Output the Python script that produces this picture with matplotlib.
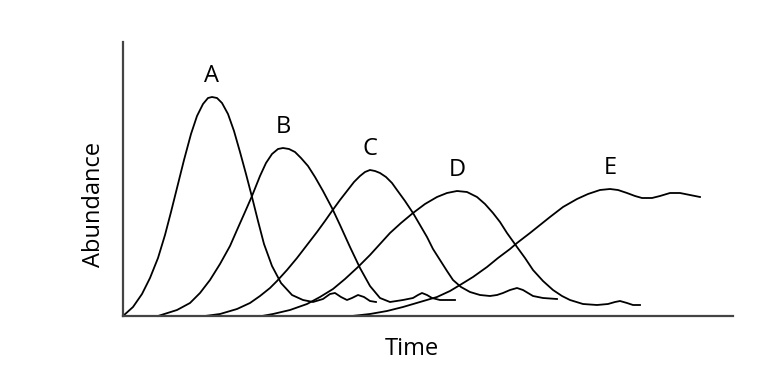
import matplotlib.pyplot as plt

plt.rcParams['font.family'] = ['Open Sans', 'DejaVu Sans']

# species abundance over time
species = ['A', 'B', 'C', 'D', 'E']

a_time = [0, 10, 19, 27, 35, 42, 48, 54, 61, 68, 74, 80, 85, 89, 94, 99, 105, 111,
          117, 123, 129, 135, 141, 149, 158, 169, 180, 190, 200, 207, 212, 218, 224,
          229, 235, 241, 247, 253]
a_abund = [0, 9, 22, 38, 58, 81, 104, 128, 156, 182, 200, 212, 218, 219, 218, 213, 202,
           185, 164, 142, 119, 95, 72, 50, 33, 21, 16, 14, 17, 22, 23, 19, 16, 18, 21,
           19, 15, 14]

b_time = [35, 54, 67, 77, 87, 97, 107, 114, 122, 129, 137, 143, 149, 155, 160, 166, 172,
          178, 185, 192, 200, 209, 217, 227, 237, 247, 257, 267, 280, 290, 295, 299, 304,
          309, 317, 332]
b_abund = [0, 6, 13, 23, 36, 52, 70, 86, 104, 120, 140, 153, 162, 167, 168, 167, 164,
           158, 150, 139, 125, 108, 91, 69, 48, 30, 18, 14, 16, 18, 21, 23, 21, 18, 16, 16]

c_time = [82, 97, 114, 127, 137, 147, 154, 164, 174, 184, 194, 202, 209, 217, 224, 231,
          237, 242, 247, 252, 257, 263, 269, 274, 282, 290, 297, 304, 310, 317, 324, 330,
          338, 347, 357, 367, 374, 380, 387, 394, 400, 405, 410, 420, 434]
c_abund = [0, 2, 7, 13, 20, 28, 35, 46, 58, 71, 84, 95, 105, 116, 125, 134, 140, 144,
           146, 145, 143, 139, 133, 126, 115, 103, 91, 79, 67, 56, 45, 36, 29, 24, 21, 20,
           21, 23, 26, 28, 26, 23, 20, 18, 17]

d_time = [139, 150, 167, 184, 197, 210, 222, 235, 247, 257, 267, 278, 290, 302, 314, 324,
          334, 344, 354, 362, 370, 377, 384, 394, 402, 410, 420, 430, 439, 447, 460, 474,
          485, 492, 497, 504, 510, 517]
d_abund = [0, 2, 6, 12, 19, 27, 37, 49, 61, 72, 83, 93, 103, 112, 119, 123, 125, 124,
           119, 112, 103, 94, 83, 69, 58, 46, 35, 26, 20, 16, 12, 11, 12, 14, 15, 13, 11, 11]

e_time = [229, 247, 264, 280, 297, 314, 327, 337, 350, 364, 375, 387, 394, 407, 417, 427,
          440, 454, 465, 477, 487, 495, 504, 512, 519, 529, 537, 547, 557, 567, 577]
e_abund = [0, 2, 5, 9, 14, 19, 25, 31, 39, 49, 58, 67, 73, 83, 91, 99, 109, 117, 122,
           126, 127, 126, 123, 120, 118, 118, 120, 123, 123, 121, 119]

curves = [(a_time, a_abund), (b_time, b_abund), (c_time, c_abund),
          (d_time, d_abund), (e_time, e_abund)]

fig = plt.figure(figsize=(7.84, 3.75), dpi=100)
ax = fig.add_axes([123 / 784, 59 / 375, 610 / 784, 274 / 375])

for name, (t, y) in zip(species, curves):
    ax.plot(t, y, color='black', lw=1.3, clip_on=False, solid_joinstyle='round')
    # letter sits just above each peak
    i = y.index(max(y))
    ax.annotate(name, (t[i], y[i]), xytext=(0, 15), textcoords='offset points',
                ha='center', va='center', fontsize=17)

ax.set_xlim(0, 610)
ax.set_ylim(0, 274)
ax.set_xticks([])
ax.set_yticks([])
for s in ['top', 'right']:
    ax.spines[s].set_visible(False)
for s in ['left', 'bottom']:
    ax.spines[s].set_color('#444444')
    ax.spines[s].set_linewidth(1.6)

fig.text(412 / 784, 1 - 349 / 375, 'Time', ha='center', va='center', fontsize=17)
fig.text(94 / 784, 1 - 204 / 375, 'Abundance', ha='center', va='center',
         rotation=90, fontsize=17)

fig.savefig('out.png', dpi=100, facecolor='white')
